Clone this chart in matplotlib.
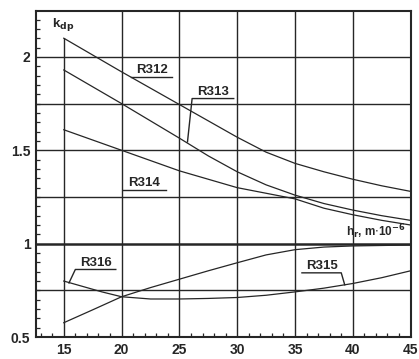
import matplotlib
matplotlib.use("Agg")
import matplotlib.pyplot as plt
from matplotlib.ticker import MultipleLocator

plt.rcParams["font.family"] = ["Liberation Sans", "DejaVu Sans"]

# film thickness h_r (x 10^-6 m) and k_dp values
h312 = [15, 20, 25, 30, 32.5, 35, 37.5, 40, 42.5, 45]
r312 = [2.10, 1.92, 1.745, 1.57, 1.49, 1.43, 1.385, 1.345, 1.31, 1.28]

h313 = [15, 20, 25, 27.5, 30, 32.5, 35, 37.5, 40, 42.5, 45]
r313 = [1.93, 1.75, 1.565, 1.47, 1.385, 1.315, 1.26, 1.215, 1.18, 1.15, 1.125]

h314 = [15, 20, 25, 30, 32.5, 35, 37.5, 40, 42.5, 45]
r314 = [1.61, 1.50, 1.39, 1.30, 1.27, 1.24, 1.19, 1.155, 1.125, 1.10]

h316 = [15, 18.3, 20, 22.5, 25, 27.5, 30, 32.5, 35, 37.5, 40, 45]
r316 = [0.80, 0.742, 0.716, 0.765, 0.81, 0.855, 0.898, 0.94, 0.968, 0.982, 0.988, 0.993]

h315 = [15, 17.5, 20, 22.5, 25, 27.5, 30, 32.5, 35, 37.5, 40, 42.5, 45]
r315 = [0.577, 0.646, 0.716, 0.704, 0.704, 0.707, 0.712, 0.724, 0.742, 0.762, 0.787, 0.818, 0.855]

x_ticks = [15, 20, 25, 30, 35, 40, 45]
y_ticks = [0.5, 1, 1.5, 2]
y_grid = [0.75, 1.0, 1.25, 1.5, 1.75, 2.0]

ink = "#262626"

fig = plt.figure(figsize=(4.19, 3.59), dpi=100)
ax = fig.add_axes([0.086, 0.061, 0.894, 0.908])
ax.set_xlim(12.6, 45)
ax.set_ylim(0.5, 2.245)

# grid
for x in x_ticks[1:-1]:
    ax.axvline(x, color=ink, lw=1.0, zorder=1)
ax.vlines(15, 0.5, r312[0], color=ink, lw=1.0, zorder=1)
for y in y_grid:
    ax.axhline(y, color=ink, lw=1.8 if y == 1.0 else 1.0, zorder=1)

# curves
for xs, ys in ((h312, r312), (h313, r313), (h314, r314), (h316, r316), (h315, r315)):
    ax.plot(xs, ys, color=ink, lw=0.9, zorder=2)

# ticks
ax.set_xticks(x_ticks)
ax.set_yticks(y_ticks)
ax.set_yticklabels(["0.5", "1", "1.5", "2"])
ax.xaxis.set_minor_locator(MultipleLocator(1))
ax.yaxis.set_minor_locator(MultipleLocator(0.05))
ax.tick_params(which="both", direction="in", color=ink, top=False, right=False)
ax.tick_params(which="major", length=0, labelsize=10, pad=4, labelcolor=ink)
ax.tick_params(which="minor", length=3, width=0.9)
for lbl in ax.get_xticklabels() + ax.get_yticklabels():
    lbl.set_fontweight("bold")
for s in ax.spines.values():
    s.set_linewidth(1.5)
    s.set_color(ink)

# curve labels with underline / leader
lab = dict(fontsize=9.5, fontweight="bold", color=ink, ha="center", va="bottom")
ax.text(22.6, 1.898, "R312", **lab)
ax.plot([20.8, 24.4], [1.893, 1.893], color=ink, lw=1.0)

ax.text(27.9, 1.782, "R313", **lab)
ax.plot([29.7, 26.1, 25.7], [1.777, 1.777, 1.545], color=ink, lw=1.0)

ax.text(21.95, 1.291, "R314", **lab)
ax.plot([20.1, 23.8], [1.286, 1.286], color=ink, lw=1.0)

ax.text(17.75, 0.867, "R316", **lab)
ax.plot([19.5, 16.0, 15.45], [0.862, 0.862, 0.79], color=ink, lw=1.0)

ax.text(37.3, 0.849, "R315", **lab)
ax.plot([35.6, 39.0, 39.3], [0.844, 0.844, 0.78], color=ink, lw=1.0)

ax.text(14.0, 2.175, r"k$_{\mathbf{dp}}$", fontsize=9.5, fontweight="bold",
        color=ink, ha="left", va="center")
ax.text(44.6, 1.015, r"h$_{\mathbf{r}}$, m$\cdot$10$^{\mathbf{-6}}$", fontsize=8.5,
        fontweight="bold", color=ink, ha="right", va="bottom")

fig.savefig("out.png", dpi=100)
